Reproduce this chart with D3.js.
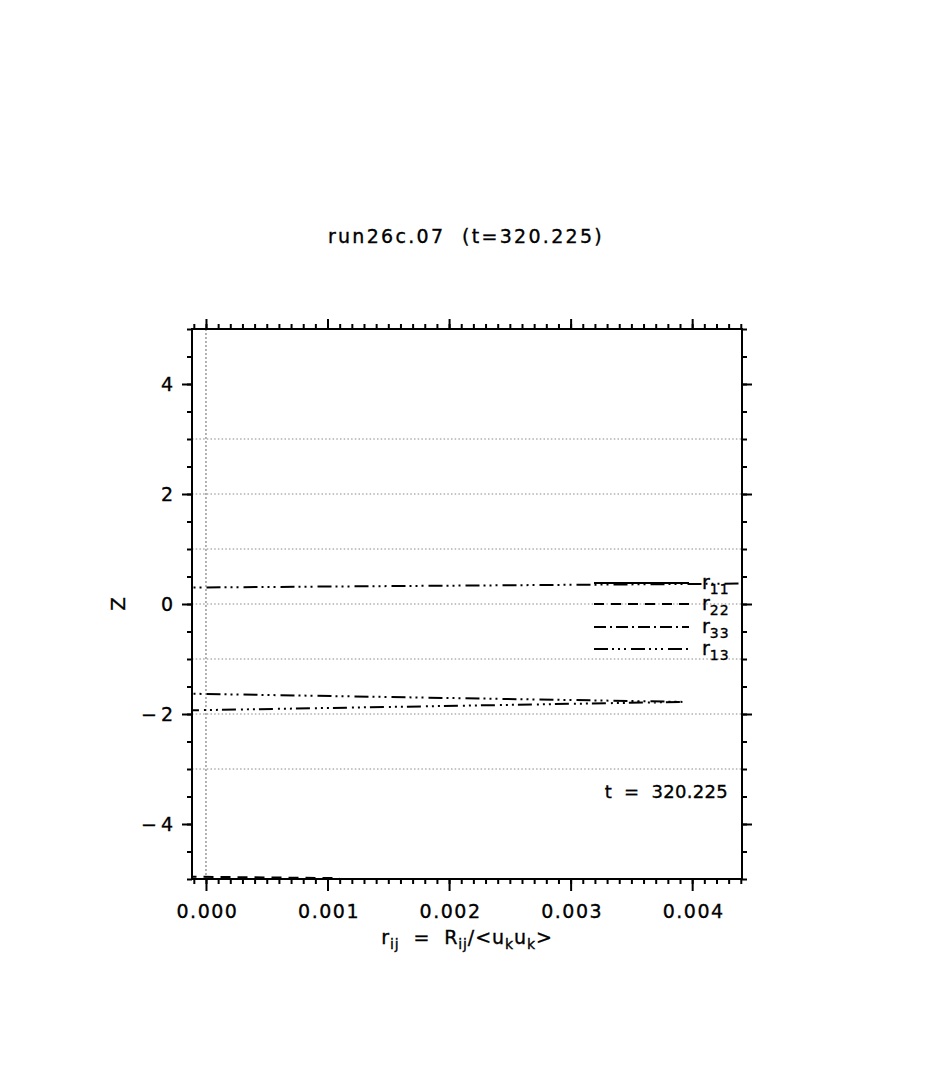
<!DOCTYPE html>
<html>
<head>
<meta charset="utf-8">
<script src="https://cdn.jsdelivr.net/npm/d3@7"></script>
<style>
  html, body { margin: 0; padding: 0; background: #fff; }
  svg text { font-family: "DejaVu Sans", sans-serif; fill: #000; stroke: #000; stroke-width: 0.35px; white-space: pre; }
</style>
</head>
<body>
<svg id="chart" width="935" height="1065"></svg>
<script>
// ---------------- data ----------------
const titleText = "run26c.07  (t=320.225)";
const timeText = "t  =  320.225";
const xMajorTicks = [0.000, 0.001, 0.002, 0.003, 0.004];
const yMajorTicks = [-4, -2, 0, 2, 4];
const gridZ = [3, 2, 1, 0, -1, -2, -3];
const gridR = [0];
const seriesNames = ["11", "22", "33", "13"];
// profiles: r value vs height z (NaN = break in the curve)
const r11R = [];
const r11Z = [];
const r22R = [-0.0003, 0.0011];
const r22Z = [-4.955, -4.985];
const r33R = [];
const r33Z = [];
const r13R = [-0.0003, 0.0046, NaN, -0.0003, 0.00393, -0.0003];
const r13Z = [0.297, 0.374, NaN, -1.625, -1.78, -1.94];

// ---------------- layout ----------------
const svg = d3.select("#chart");
const L = 192, R = 742, T = 329, B = 879;
const x = d3.scaleLinear().domain([-0.000115, 0.00441]).range([L, R]);
const y = d3.scaleLinear().domain([-5, 5]).range([B, T]);

const dashes = {
  "11": null,
  "22": "10,7",
  "33": "12,4,2,4",
  "13": "14,4,2,4,2,4,2,5"
};

// title
svg.append("text").attr("x", 466).attr("y", 243).attr("text-anchor", "middle")
  .style("font-size", "19px").style("letter-spacing", "2.3px").text(titleText);

// clip
svg.append("defs").append("clipPath").attr("id", "clip")
  .append("rect").attr("x", L).attr("y", T).attr("width", R - L).attr("height", B - T);

const plot = svg.append("g").attr("clip-path", "url(#clip)");

// grid lines
plot.selectAll("line.gz").data(gridZ).enter().append("line")
  .attr("x1", L).attr("x2", R).attr("y1", d => y(d)).attr("y2", d => y(d))
  .attr("stroke", "#888").attr("stroke-width", 1).attr("stroke-dasharray", "1.5,2.2");
plot.selectAll("line.gr").data(gridR).enter().append("line")
  .attr("x1", d => x(d)).attr("x2", d => x(d)).attr("y1", T).attr("y2", B)
  .attr("stroke", "#666").attr("stroke-width", 1).attr("stroke-dasharray", "2,2");

// curves
const series = [
  { name: "11", r: r11R, z: r11Z },
  { name: "22", r: r22R, z: r22Z },
  { name: "33", r: r33R, z: r33Z },
  { name: "13", r: r13R, z: r13Z }
];
const line = d3.line()
  .defined(d => !isNaN(d[0]) && !isNaN(d[1]))
  .x(d => x(d[0])).y(d => y(d[1]));
series.forEach(s => {
  const pts = s.r.map((v, i) => [v, s.z[i]]);
  if (!pts.length) return;
  plot.append("path").attr("d", line(pts)).attr("fill", "none")
    .attr("stroke", "#000").attr("stroke-width", 2)
    .attr("stroke-dasharray", dashes[s.name]);
});

// axes
const xMinor = d3.range(-1, 45).map(i => i * 0.0001).filter(v => v >= x.domain()[0] && v <= x.domain()[1]);
const yMinor = d3.range(-10, 11).map(i => i * 0.5);
function styleAxis(g) {
  g.select(".domain").remove();
  g.selectAll("line").attr("stroke", "#000").attr("stroke-width", 2);
}
// minor ticks
svg.append("g").attr("transform", `translate(0,${B})`)
  .call(d3.axisBottom(x).tickValues(xMinor).tickSize(5).tickFormat("")).call(styleAxis);
svg.append("g").attr("transform", `translate(0,${T})`)
  .call(d3.axisTop(x).tickValues(xMinor).tickSize(5).tickFormat("")).call(styleAxis);
svg.append("g").attr("transform", `translate(${L},0)`)
  .call(d3.axisLeft(y).tickValues(yMinor).tickSize(5).tickFormat("")).call(styleAxis);
svg.append("g").attr("transform", `translate(${R},0)`)
  .call(d3.axisRight(y).tickValues(yMinor).tickSize(5).tickFormat("")).call(styleAxis);
// major ticks
const xb = svg.append("g").attr("transform", `translate(0,${B})`)
  .call(d3.axisBottom(x).tickValues(xMajorTicks).tickSize(12).tickPadding(14).tickFormat(d3.format(".3f")))
  .call(styleAxis);
xb.selectAll("text").style("font-size", "19px").style("letter-spacing", "1.5px")
  .attr("font-family", null).attr("fill", "#000").attr("dx", "1px");
svg.append("g").attr("transform", `translate(0,${T})`)
  .call(d3.axisTop(x).tickValues(xMajorTicks).tickSize(10).tickFormat("")).call(styleAxis);
const yl = svg.append("g").attr("transform", `translate(${L},0)`)
  .call(d3.axisLeft(y).tickValues(yMajorTicks).tickSize(10).tickPadding(9).tickFormat(d => d < 0 ? "\u2212" + Math.abs(d) : String(d)))
  .call(styleAxis);
yl.selectAll("text").style("font-size", "19px").style("letter-spacing", "4px")
  .attr("font-family", null).attr("fill", "#000").attr("dx", "4px");
svg.append("g").attr("transform", `translate(${R},0)`)
  .call(d3.axisRight(y).tickValues(yMajorTicks).tickSize(10).tickFormat("")).call(styleAxis);

// frame
svg.append("rect").attr("x", L).attr("y", T).attr("width", R - L).attr("height", B - T)
  .attr("fill", "none").attr("stroke", "#000").attr("stroke-width", 2);

// legend
const legY = [583, 604, 627, 649];
const leg = svg.append("g");
seriesNames.forEach((n, i) => {
  leg.append("line").attr("x1", 594).attr("x2", 689).attr("y1", legY[i]).attr("y2", legY[i])
    .attr("stroke", "#000").attr("stroke-width", 2).attr("stroke-dasharray", dashes[n]);
  const t = leg.append("text").attr("x", 702).attr("y", legY[i] + 6).style("font-size", "19px");
  t.append("tspan").text("r");
  t.append("tspan").attr("dy", 5).style("font-size", "14px").style("letter-spacing", "1px").text(n);
});

// time annotation
svg.append("text").attr("x", 728).attr("y", 798).attr("text-anchor", "end")
  .style("font-size", "18px").style("letter-spacing", "0.3px").text(timeText);

// x axis label
const xl = svg.append("text").attr("x", 467).attr("y", 944).attr("text-anchor", "middle")
  .style("font-size", "19px").style("letter-spacing", "0.9px");
xl.append("tspan").text("r");
xl.append("tspan").attr("dy", 5).style("font-size", "14px").text("ij");
xl.append("tspan").attr("dy", -5).text("  =  R");
xl.append("tspan").attr("dy", 5).style("font-size", "14px").text("ij");
xl.append("tspan").attr("dy", -5).text("/<u");
xl.append("tspan").attr("dy", 5).style("font-size", "14px").text("k");
xl.append("tspan").attr("dy", -5).text("u");
xl.append("tspan").attr("dy", 5).style("font-size", "14px").text("k");
xl.append("tspan").attr("dy", -5).text(">");

// y axis label
svg.append("text").attr("transform", "translate(125,604) rotate(-90)").attr("text-anchor", "middle")
  .style("font-size", "20px").text("Z");
</script>
</body>
</html>
